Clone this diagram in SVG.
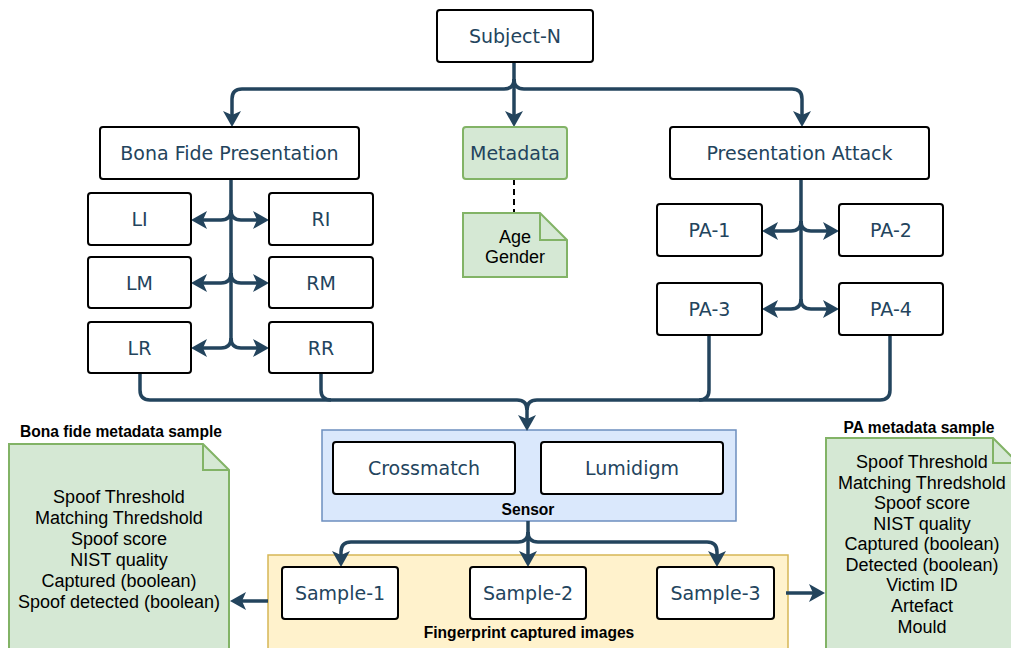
<svg xmlns="http://www.w3.org/2000/svg" width="1011" height="648" viewBox="0 0 1011 648">
<style>
.node{fill:#fff;stroke:#000;stroke-width:2}
.nt{font-family:"DejaVu Sans",Verdana,sans-serif;font-size:19px;fill:#23445D;text-anchor:middle}
.green{fill:#d5e8d4;stroke:#82b366;stroke-width:2}
.note{font-family:"Liberation Sans",Arial,sans-serif;font-size:18px;fill:#000;text-anchor:middle}
.title{font-family:"Liberation Sans",Arial,sans-serif;font-size:15.6px;font-weight:bold;fill:#000;text-anchor:middle}
.edge{fill:none;stroke:#23445D;stroke-width:3.5;marker-end:url(#arr)}
.line{fill:none;stroke:#23445D;stroke-width:3.5}
</style>
<defs>
<marker id="arr" markerUnits="userSpaceOnUse" viewBox="0 0 16 18" refX="8" refY="9" markerWidth="16" markerHeight="18" orient="auto">
<path d="M0,0 L16,9 L0,18 L4,9 Z" fill="#23445D"/>
</marker>
</defs>
<rect width="1011" height="648" fill="#fff"/>
<g id="sensor-group">
<rect x="322" y="430" width="414" height="91" fill="#dae8fc" stroke="#6c8ebf" stroke-width="1.5"/>
<text class="title" x="528" y="515">Sensor</text>
</g>
<g id="fingerprint-group">
<rect x="268" y="555" width="520" height="110" fill="#fff2cc" stroke="#d6b656" stroke-width="1.5"/>
<text class="title" x="529" y="638">Fingerprint captured images</text>
</g>
<g id="connectors">
<path class="line" d="M514,62 V79"/>
<path class="edge" d="M514,79 Q514,89 504,89 H242 Q232,89 232,99 V119"/>
<path class="edge" d="M514,79 V119"/>
<path class="edge" d="M514,79 Q514,89 524,89 H792 Q802,89 802,99 V119"/>
<path class="line" d="M231,179 V338"/>
<path class="edge" d="M231,210 Q231,220 221,220 H199"/>
<path class="edge" d="M231,210 Q231,220 241,220 H261"/>
<path class="edge" d="M231,273 Q231,283 221,283 H199"/>
<path class="edge" d="M231,273 Q231,283 241,283 H261"/>
<path class="edge" d="M231,338 Q231,348 221,348 H199"/>
<path class="edge" d="M231,338 Q231,348 241,348 H261"/>
<path class="line" d="M801,179 V299"/>
<path class="edge" d="M801,221 Q801,231 791,231 H770"/>
<path class="edge" d="M801,221 Q801,231 811,231 H831"/>
<path class="edge" d="M801,299 Q801,309 791,309 H770"/>
<path class="edge" d="M801,299 Q801,309 811,309 H831"/>
<path d="M514,179 V213" fill="none" stroke="#000" stroke-width="2" stroke-dasharray="6 4"/>
<path class="line" d="M140,373 V390 Q140,400 150,400 H517 Q527,400 527,410"/>
<path class="line" d="M321,373 V390 Q321,400 331,400"/>
<path class="line" d="M709,335 V390 Q709,400 699,400"/>
<path class="line" d="M890,335 V390 Q890,400 880,400 H537 Q527,400 527,410"/>
<path class="edge" d="M527,410 V423"/>
<path class="line" d="M528,521 V532"/>
<path class="edge" d="M528,532 Q528,542 518,542 H351 Q341,542 341,552 V559"/>
<path class="edge" d="M528,532 V559"/>
<path class="edge" d="M528,532 Q528,542 538,542 H707 Q717,542 717,552 V559"/>
<path class="edge" d="M268,601 H238"/>
<path class="edge" d="M786,593 H817"/>
</g>
<g id="subject"><rect class="node" x="437" y="10" width="156" height="52" rx="3"/><text class="nt" x="515" y="43">Subject-N</text></g>
<g id="bonafide"><rect class="node" x="100" y="127" width="259" height="52" rx="3"/><text class="nt" x="229.5" y="160">Bona Fide Presentation</text></g>
<g id="metadata"><rect class="green" x="463" y="127" width="104" height="52" rx="3"/><text class="nt" x="515" y="160">Metadata</text></g>
<g id="pa"><rect class="node" x="670" y="127" width="259" height="52" rx="3"/><text class="nt" x="799.5" y="160">Presentation Attack</text></g>
<g id="agegender"><path class="green" d="M463,213 H540 L567,240 V277 H463 Z"/><path d="M540,213 V240 H567" fill="none" stroke="#82b366" stroke-width="2"/><text class="note" x="515" y="243">Age</text><text class="note" x="515" y="263">Gender</text></g>
<g id="li"><rect class="node" x="88" y="193" width="103" height="52" rx="3"/><text class="nt" x="139.5" y="226">LI</text></g>
<g id="ri"><rect class="node" x="269" y="193" width="104" height="52" rx="3"/><text class="nt" x="321" y="226">RI</text></g>
<g id="lm"><rect class="node" x="88" y="257" width="103" height="51" rx="3"/><text class="nt" x="139.5" y="290">LM</text></g>
<g id="rm"><rect class="node" x="269" y="257" width="104" height="51" rx="3"/><text class="nt" x="321" y="290">RM</text></g>
<g id="lr"><rect class="node" x="88" y="322" width="103" height="51" rx="3"/><text class="nt" x="139.5" y="355">LR</text></g>
<g id="rr"><rect class="node" x="269" y="322" width="104" height="51" rx="3"/><text class="nt" x="321" y="355">RR</text></g>
<g id="pa1"><rect class="node" x="657" y="204" width="105" height="52" rx="3"/><text class="nt" x="709.5" y="237">PA-1</text></g>
<g id="pa2"><rect class="node" x="839" y="204" width="104" height="52" rx="3"/><text class="nt" x="891" y="237">PA-2</text></g>
<g id="pa3"><rect class="node" x="657" y="283" width="105" height="52" rx="3"/><text class="nt" x="709.5" y="316">PA-3</text></g>
<g id="pa4"><rect class="node" x="839" y="283" width="104" height="52" rx="3"/><text class="nt" x="891" y="316">PA-4</text></g>
<g id="crossmatch"><rect class="node" x="333" y="442" width="182" height="52" rx="3"/><text class="nt" x="424" y="475">Crossmatch</text></g>
<g id="lumidigm"><rect class="node" x="541" y="442" width="182" height="52" rx="3"/><text class="nt" x="632" y="475">Lumidigm</text></g>
<g id="sample1"><rect class="node" x="282" y="567" width="116" height="52" rx="3"/><text class="nt" x="340" y="600">Sample-1</text></g>
<g id="sample2"><rect class="node" x="470" y="567" width="116" height="52" rx="3"/><text class="nt" x="528" y="600">Sample-2</text></g>
<g id="sample3"><rect class="node" x="657" y="567" width="117" height="52" rx="3"/><text class="nt" x="715.5" y="600">Sample-3</text></g>
<g id="bonafide-note">
<text class="title" x="121" y="437">Bona fide metadata sample</text>
<path class="green" d="M9,444 H203 L229,470 V660 H9 Z"/><path d="M203,444 V470 H229" fill="none" stroke="#82b366" stroke-width="2"/>
<text class="note" x="119" y="503">Spoof Threshold</text>
<text class="note" x="119" y="524">Matching Thredshold</text>
<text class="note" x="119" y="545">Spoof score</text>
<text class="note" x="119" y="566">NIST quality</text>
<text class="note" x="119" y="587">Captured (boolean)</text>
<text class="note" x="119" y="608">Spoof detected (boolean)</text>
</g>
<g id="pa-note">
<text class="title" x="919" y="433">PA metadata sample</text>
<path class="green" d="M826,438 H993 L1018,463 V660 H826 Z"/><path d="M993,438 V463 H1018" fill="none" stroke="#82b366" stroke-width="2"/>
<text class="note" x="922" y="468">Spoof Threshold</text>
<text class="note" x="922" y="489">Matching Thredshold</text>
<text class="note" x="922" y="509">Spoof score</text>
<text class="note" x="922" y="530">NIST quality</text>
<text class="note" x="922" y="550">Captured (boolean)</text>
<text class="note" x="922" y="571">Detected (boolean)</text>
<text class="note" x="922" y="591">Victim ID</text>
<text class="note" x="922" y="612">Artefact</text>
<text class="note" x="922" y="633">Mould</text>
</g>
</svg>
